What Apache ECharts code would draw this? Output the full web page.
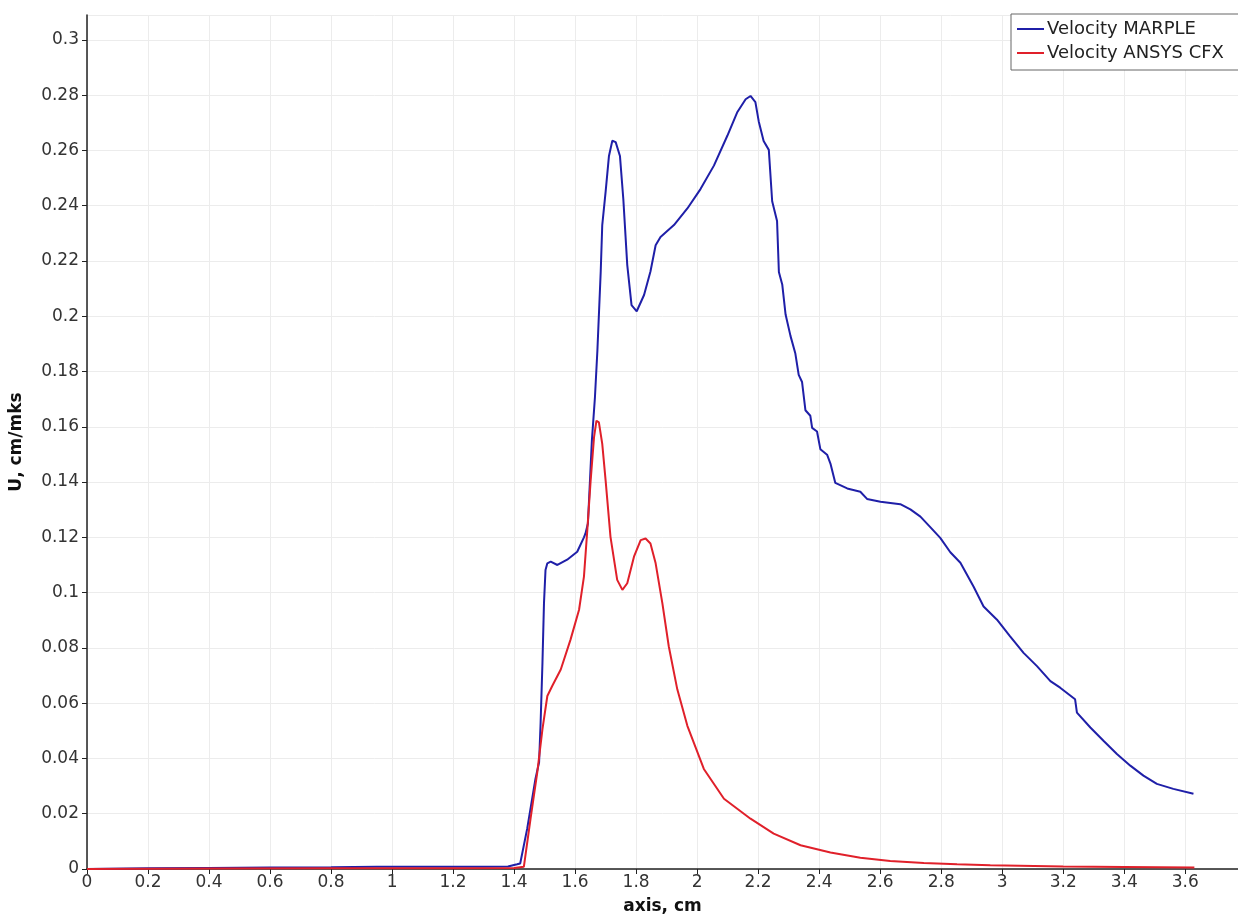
<!DOCTYPE html>
<html>
<head>
<meta charset="utf-8">
<title>Velocity along axis</title>
<script src="https://cdn.jsdelivr.net/npm/echarts@6/dist/echarts.min.js"></script>
<style>
  html, body { margin: 0; padding: 0; background: #fff; }
  #chart { width: 1238px; height: 920px; }
</style>
</head>
<body>
<div id="chart"></div>
<script>
// Axial position, cm, and velocity, cm/mks
const marpleX = [0, 0.2, 0.4, 0.6, 0.8, 0.95, 1.1, 1.3, 1.38, 1.41, 1.42, 1.443, 1.47, 1.482, 1.487, 1.493, 1.498, 1.503, 1.509, 1.52, 1.542, 1.574, 1.607, 1.629, 1.634, 1.642, 1.655, 1.665, 1.673, 1.684, 1.689, 1.7, 1.711, 1.722, 1.733, 1.747, 1.758, 1.771, 1.785, 1.802, 1.826, 1.847, 1.864, 1.88, 1.924, 1.968, 2.011, 2.055, 2.099, 2.131, 2.159, 2.175, 2.191, 2.202, 2.218, 2.235, 2.246, 2.262, 2.268, 2.279, 2.29, 2.306, 2.322, 2.333, 2.344, 2.355, 2.371, 2.377, 2.393, 2.404, 2.426, 2.437, 2.453, 2.492, 2.535, 2.557, 2.601, 2.666, 2.699, 2.732, 2.765, 2.797, 2.83, 2.863, 2.906, 2.939, 2.983, 3.026, 3.07, 3.114, 3.158, 3.19, 3.239, 3.245, 3.289, 3.332, 3.376, 3.42, 3.463, 3.507, 3.561, 3.627];
const marpleU = [0, 0.0003, 0.0004, 0.0005, 0.0006, 0.0008, 0.0008, 0.0008, 0.0009, 0.0017, 0.002, 0.0146, 0.0326, 0.0386, 0.053, 0.0746, 0.0962, 0.1082, 0.1106, 0.1112, 0.110, 0.1119, 0.1148, 0.120, 0.1214, 0.125, 0.155, 0.1706, 0.1874, 0.2162, 0.233, 0.245, 0.258, 0.2635, 0.263, 0.258, 0.2425, 0.2185, 0.204, 0.2018, 0.2077, 0.2162, 0.2257, 0.2287, 0.233, 0.239, 0.246, 0.2545, 0.2653, 0.2737, 0.2785, 0.2797, 0.2775, 0.2705, 0.2634, 0.2602, 0.2416, 0.2345, 0.216, 0.2115, 0.2006, 0.1929, 0.1865, 0.1788, 0.1762, 0.166, 0.164, 0.1596, 0.1583, 0.1519, 0.1499, 0.1467, 0.1397, 0.1377, 0.1365, 0.1339, 0.1329, 0.132, 0.1301, 0.1275, 0.1236, 0.1198, 0.1146, 0.1108, 0.1022, 0.095, 0.0902, 0.0842, 0.0782, 0.0734, 0.068, 0.0656, 0.0614, 0.0566, 0.0512, 0.0464, 0.0416, 0.0374, 0.0338, 0.0308, 0.029, 0.0272];

const cfxX = [0, 0.4, 0.8, 1.2, 1.4, 1.432, 1.454, 1.476, 1.493, 1.509, 1.525, 1.553, 1.585, 1.613, 1.629, 1.64, 1.651, 1.662, 1.67, 1.678, 1.689, 1.7, 1.716, 1.738, 1.755, 1.771, 1.793, 1.815, 1.831, 1.847, 1.864, 1.886, 1.907, 1.935, 1.968, 2.022, 2.088, 2.175, 2.251, 2.339, 2.437, 2.535, 2.633, 2.743, 2.852, 2.961, 3.2, 3.4, 3.63];
const cfxU = [0, 0.0002, 0.0003, 0.0003, 0.0004, 0.0008, 0.0182, 0.035, 0.0506, 0.0626, 0.0662, 0.0722, 0.083, 0.0938, 0.1058, 0.1226, 0.1406, 0.1562, 0.1622, 0.1616, 0.1538, 0.1406, 0.1202, 0.1046, 0.101, 0.1034, 0.113, 0.119, 0.1196, 0.1178, 0.1106, 0.0962, 0.0806, 0.065, 0.0518, 0.0362, 0.0254, 0.0182, 0.0128, 0.0086, 0.006, 0.0041, 0.0029, 0.0022, 0.0017, 0.0014, 0.0009, 0.0007, 0.0005];

const seriesNames = ['Velocity MARPLE', 'Velocity ANSYS CFX'];
const xTitle = 'axis, cm';
const yTitle = 'U, cm/mks';

const pairs = (xs, ys) => xs.map((x, i) => [x, ys[i]]);

const font = 'DejaVu Sans';
const onStep = (v, step) => Math.abs(v / step - Math.round(v / step)) < 1e-6;

const chart = echarts.init(document.getElementById('chart'), null, { renderer: 'canvas' });
chart.setOption({
  animation: false,
  backgroundColor: '#ffffff',
  grid: { left: 86, right: 0, top: 15, bottom: 46, containLabel: false },
  legend: {
    data: seriesNames,
    left: 1011,
    top: 14,
    orient: 'vertical',
    icon: 'rect',
    itemWidth: 27,
    itemHeight: 2,
    itemGap: 6,
    padding: [6, 40, 8, 6],
    borderColor: '#666',
    borderWidth: 1,
    borderRadius: 0,
    backgroundColor: '#fff',
    textStyle: { fontFamily: font, fontSize: 18, color: '#222', lineHeight: 17, padding: [0, 0, 0, -2] }
  },
  xAxis: {
    type: 'value',
    min: 0,
    max: 3.773,
    interval: 0.2,
    name: xTitle,
    nameLocation: 'middle',
    nameGap: 29,
    nameTextStyle: { fontFamily: font, fontSize: 17, fontWeight: 'bold', color: '#111' },
    axisLine: { onZero: false, lineStyle: { color: '#222', width: 1.5 } },
    axisTick: { show: true, length: 5, lineStyle: { color: '#222' } },
    axisLabel: {
      fontFamily: font, fontSize: 17, color: '#333', margin: 5, showMaxLabel: false,
      formatter: v => onStep(v, 0.2) ? String(Math.round(v * 10) / 10) : ''
    },
    splitLine: { show: true, lineStyle: { color: '#ececec', width: 1 } }
  },
  yAxis: {
    type: 'value',
    min: 0,
    max: 0.309,
    interval: 0.02,
    name: yTitle,
    nameLocation: 'middle',
    nameGap: 62,
    nameRotate: 90,
    nameTextStyle: { fontFamily: font, fontSize: 17, fontWeight: 'bold', color: '#111' },
    axisLine: { show: true, onZero: false, lineStyle: { color: '#222', width: 1.5 } },
    axisTick: { show: true, length: 5, lineStyle: { color: '#222' } },
    axisLabel: {
      fontFamily: font, fontSize: 17, color: '#333', margin: 8, showMaxLabel: false,
      formatter: v => onStep(v, 0.02) ? String(Math.round(v * 100) / 100) : ''
    },
    splitLine: { show: true, lineStyle: { color: '#ececec', width: 1 } }
  },
  series: [
    {
      name: seriesNames[0],
      type: 'line',
      data: pairs(marpleX, marpleU),
      showSymbol: false,
      symbol: 'none',
      lineStyle: { color: '#1f1fa8', width: 2 },
      itemStyle: { color: '#1f1fa8' },
      z: 2
    },
    {
      name: seriesNames[1],
      type: 'line',
      data: pairs(cfxX, cfxU),
      showSymbol: false,
      symbol: 'none',
      lineStyle: { color: '#e0202a', width: 2 },
      itemStyle: { color: '#e0202a' },
      z: 3
    }
  ]
});
</script>
</body>
</html>
